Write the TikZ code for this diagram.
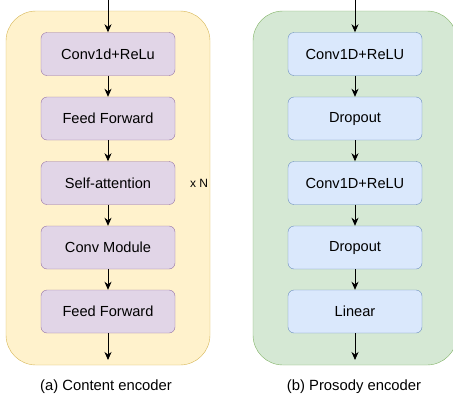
\documentclass[tikz,border=0pt]{standalone}
\usepackage{fontspec}
\setmainfont{Liberation Sans}
\usetikzlibrary{arrows.meta,positioning}
\definecolor{yellowfill}{HTML}{FFF2CC}
\definecolor{yellowline}{HTML}{D6B656}
\definecolor{purplefill}{HTML}{E1D5E7}
\definecolor{purpleline}{HTML}{9673A6}
\definecolor{greenfill}{HTML}{D5E8D4}
\definecolor{greenline}{HTML}{82B366}
\definecolor{bluefill}{HTML}{DAE8FC}
\definecolor{blueline}{HTML}{6C8EBF}
\tikzstyle{container}=[rectangle,rounded corners=30pt,minimum width=204pt,minimum height=354pt,inner sep=0pt]
\tikzstyle{block}=[rectangle,rounded corners=6pt,minimum width=134pt,minimum height=43pt,inner sep=0pt,font=\fontsize{14.6}{17}\selectfont]
\tikzstyle{caption}=[font=\fontsize{14.8}{17}\selectfont]
\tikzstyle{line} = [draw, -{Stealth[length=8pt,width=7pt,inset=2.5pt]}, line width=0.9pt]

\begin{document}
\begin{tikzpicture}[x=1pt,y=-1pt]
  \useasboundingbox (0,0) rectangle (453,402);
  \clip (0,0) rectangle (453,402);
  % containers
  \node[container,draw=yellowline,fill=yellowfill] (content) at (108,188) {};
  \node[container,draw=greenline,fill=greenfill] (prosody) at (355,188) {};
  % content encoder
  \tikzstyle{cblock}=[block,draw=purpleline,fill=purplefill]
  \node[cblock] (conv)  at (108,54)    {Conv1d+ReLu};
  \node[cblock] (ffa)   at (108,118.5) {Feed Forward};
  \node[cblock] (att)   at (108,183)   {Self-attention};
  \node[cblock] (cmod)  at (108,247.5) {Conv Module};
  \node[cblock] (ffb)   at (108,311.5) {Feed Forward};
  \node[font=\fontsize{12}{14}\selectfont] (times) at (199,183) {x N};
  \coordinate (cin)  at (108,0);
  \coordinate (cout) at (108,360);
  \draw[line] (cin) -- (conv);
  \draw[line] (conv) -- (ffa);
  \draw[line] (ffa) -- (att);
  \draw[line] (att) -- (cmod);
  \draw[line] (cmod) -- (ffb);
  \draw[line] (ffb) -- (cout);
  % prosody encoder
  \tikzstyle{pblock}=[block,draw=blueline,fill=bluefill]
  \node[pblock] (pconva) at (355,54)    {Conv1D+ReLU};
  \node[pblock] (dropa)  at (355,118.5) {Dropout};
  \node[pblock] (pconvb) at (355,183)   {Conv1D+ReLU};
  \node[pblock] (dropb)  at (355,247.5) {Dropout};
  \node[pblock] (lin)    at (355,311.5) {Linear};
  \coordinate (pin)  at (355,0);
  \coordinate (pout) at (355,360);
  \draw[line] (pin) -- (pconva);
  \draw[line] (pconva) -- (dropa);
  \draw[line] (dropa) -- (pconvb);
  \draw[line] (pconvb) -- (dropb);
  \draw[line] (dropb) -- (lin);
  \draw[line] (lin) -- (pout);
  % captions
  \node[caption] (capa) at (106,387) {(a) Content encoder};
  \node[caption] (capb) at (354,387) {(b) Prosody encoder};
\end{tikzpicture}
\end{document}
